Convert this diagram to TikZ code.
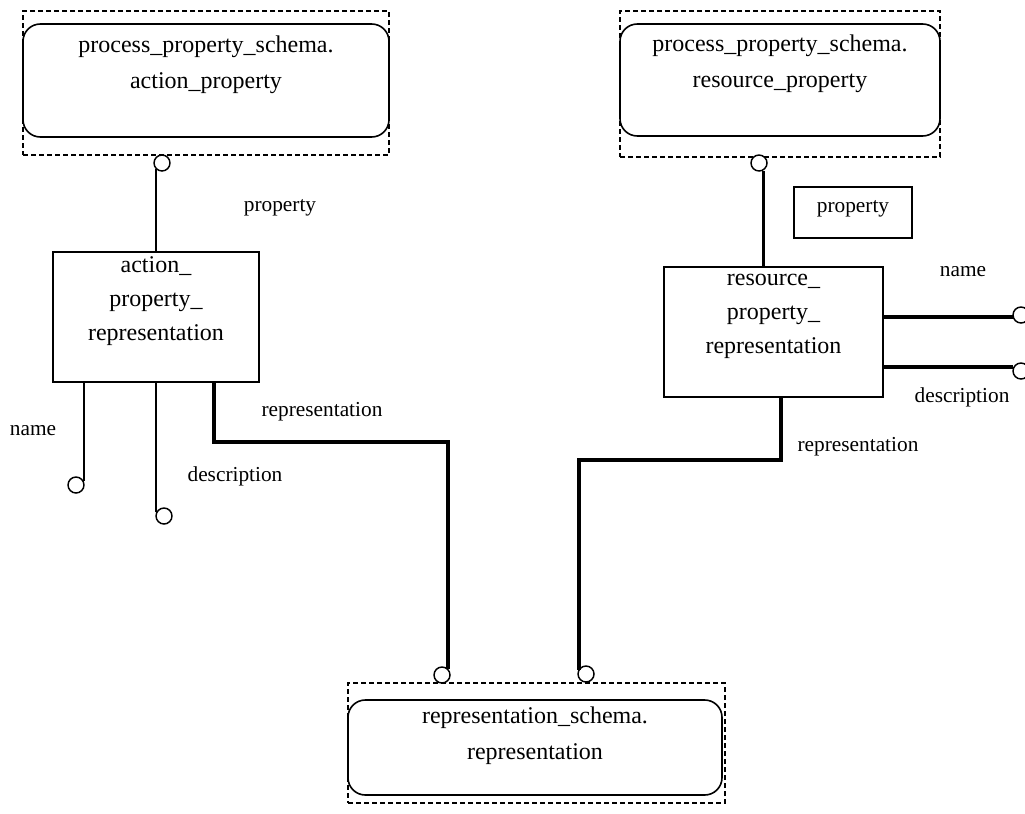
\documentclass[tikz,border=0pt]{standalone}
\usepackage{fontspec}
\setmainfont{Liberation Serif}
\begin{document}
\begin{tikzpicture}[x=0.75pt,y=-0.75pt,
  dashbox/.style={draw,line width=1.4pt,dash pattern=on 3.75pt off 2.25pt,inner sep=0pt},
  rbox/.style={draw,line width=1.2pt,rounded corners=13pt,inner sep=0pt},
  ebox/.style={draw,line width=1.2pt,inner sep=0pt},
  btext/.style={align=center,font=\fontsize{18}{27}\selectfont,inner sep=0pt},
  etext/.style={align=center,font=\fontsize{18}{25.5}\selectfont,inner sep=0pt},
  lbl/.style={font=\fontsize{16}{19}\selectfont,inner sep=0pt},
  ring/.style={circle,draw,line width=1.1pt,fill=white,minimum size=12pt,inner sep=0pt},
  thin/.style={line width=1.8pt},
  thick/.style={line width=2.8pt}]
\useasboundingbox (0,0) rectangle (1025,814);
% top-left schema box
\node[dashbox,minimum width=274.5pt,minimum height=108pt] (apd) at (206,83) {};
\node[rbox,minimum width=274.5pt,minimum height=84.75pt] (ap) at (206,80.5) {};
\node[btext] (apt) at (206,65) {process\_property\_schema.\\action\_property};
% top-right schema box
\node[dashbox,minimum width=240pt,minimum height=109.5pt] (rpd) at (780,84) {};
\node[rbox,minimum width=240pt,minimum height=84pt] (rp) at (780,80) {};
\node[btext] (rpt) at (780,63.5) {process\_property\_schema.\\resource\_property};
% bottom schema box
\node[dashbox,minimum width=282.75pt,minimum height=90pt] (rsd) at (536.5,743) {};
\node[rbox,minimum width=280.5pt,minimum height=71.25pt] (rs) at (535,747.5) {};
\node[btext] (rst) at (535,736) {representation\_schema.\\representation};
% entity boxes
\node[ebox,minimum width=154.5pt,minimum height=97.5pt] (apr) at (156,317) {};
\node[etext] (aprt) at (156,301.5) {action\_\\property\_\\representation};
\node[ebox,minimum width=164.25pt,minimum height=97.5pt] (rpr) at (773.5,332) {};
\node[etext] (rprt) at (773.5,316) {resource\_\\property\_\\representation};
\node[ebox,minimum width=88.5pt,minimum height=38.25pt] (pbox) at (853,212.5) {};
\node[lbl] (pboxt) at (853,209) {property};
% rings
\node[ring] (c1) at (162,163) {};
\node[ring] (c2) at (759,163) {};
\node[ring] (cn) at (76,485) {};
\node[ring] (cd) at (164,516) {};
\node[ring] (cl) at (442,675) {};
\node[ring] (cr) at (586,674) {};
\node[ring] (crn) at (1021,315) {};
\node[ring] (crd) at (1021,371) {};
% coordinates for bends
\coordinate (la) at (214,382);
\coordinate (lb) at (214,442);
\coordinate (lc) at (448,442);
\coordinate (ra) at (781,397);
\coordinate (rb) at (781,460);
\coordinate (rc) at (579,460);
% connectors
\draw[thin] (c1.225) -- (c1.225 |- apr.north);
\draw[thin] (c2.-60) -- (c2.-60 |- rpr.north);
\draw[thin] (cn.25) -- (cn.25 |- apr.south);
\draw[thin] (cd.155) -- (cd.155 |- apr.south);
\draw[thick] (la) -- (lb) -- (lc) -- (lc |- cl.45);
\draw[thick] (ra) -- (rb) -- (rc) -- (rc |- cr.150);
\draw[thick] (rpr.east |- crn.195) -- (crn.195);
\draw[thick] (rpr.east |- crd.150) -- (crd.150);
% labels
\node[lbl] (l1) at (280,208) {property};
\node[lbl] (l2) at (963,272) {name};
\node[lbl] (l3) at (962,397) {description};
\node[lbl] (l4) at (858,447) {representation};
\node[lbl] (l5) at (33,431) {name};
\node[lbl] (l6) at (235,476) {description};
\node[lbl] (l7) at (322,412) {representation};
\end{tikzpicture}
\end{document}
